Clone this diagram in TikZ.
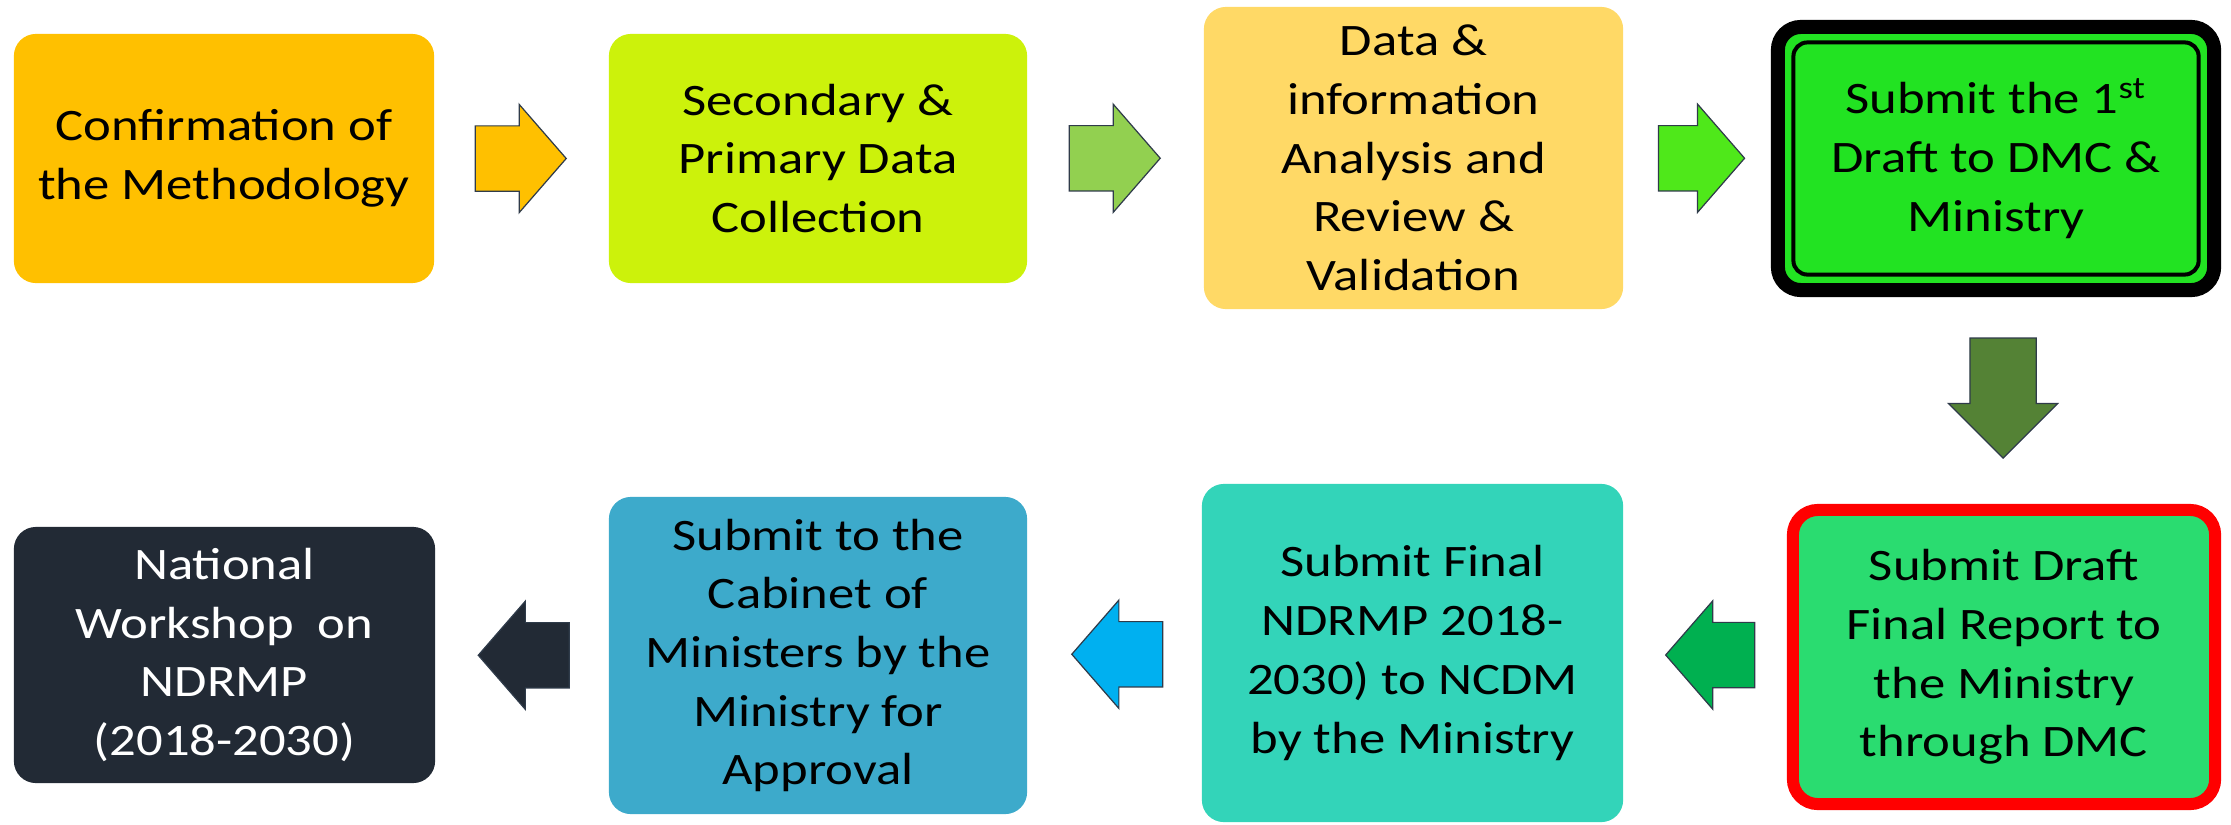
\documentclass[tikz,border=0pt]{standalone}
\usepackage{fontspec}
\setmainfont{Carlito}[FakeStretch=1.17]
\usepackage{xcolor}
\usetikzlibrary{shapes.arrows}
\usetikzlibrary{calc}

\definecolor{fillA}{HTML}{FFC000}
\definecolor{fillB}{HTML}{CCF20B}
\definecolor{fillC}{HTML}{FFD966}
\definecolor{fillD}{HTML}{22E322}
\definecolor{fillE}{HTML}{2ADC70}
\definecolor{fillF}{HTML}{33D4B9}
\definecolor{fillG}{HTML}{3DAACB}
\definecolor{fillH}{HTML}{222A35}
\definecolor{arrAB}{HTML}{FFC000}
\definecolor{arrBC}{HTML}{92D050}
\definecolor{arrCD}{HTML}{4FE81A}
\definecolor{arrDE}{HTML}{548235}
\definecolor{arrEF}{HTML}{00B050}
\definecolor{arrFG}{HTML}{00B0F0}
\definecolor{arrGH}{HTML}{222A35}
\definecolor{arrline}{HTML}{2F3B4A}

\begin{document}
\begin{tikzpicture}[x=0.01cm,y=-0.01cm]
		
		\useasboundingbox (0,0) rectangle (2231,824);
		
		\tikzset{box/.style = {shape=rectangle,rounded corners=0.22cm,inner sep=0pt,align=center,font=\fontsize{12.8}{16.7}\selectfont}}
		\tikzset{blockarrow/.style = {shape=single arrow,draw=arrline,line width=0.35pt,inner xsep=0pt,inner ysep=0.32cm,single arrow head extend=0.215cm,single arrow tip angle=98,minimum height=0.91cm}}
		
		
		\node[box,fill=fillA,minimum width=4.20cm,minimum height=2.49cm] (A) at (224,158.5) {Confirmation of\\the Methodology};
		\node[box,fill=fillB,minimum width=4.18cm,minimum height=2.49cm] (B) at (818,158.5) {Secondary \&\\Primary Data\\Collection};
		\node[box,fill=fillC,minimum width=4.19cm,minimum height=3.02cm] (C) at (1413.5,158) {Data \&\\information\\Analysis and\\Review \&\\Validation};
		\node[box,fill=fillD,draw=black,line width=0.14cm,rounded corners=0.23cm,minimum width=4.36cm,minimum height=2.63cm] (D) at (1996,158.5) {Submit the 1\textsuperscript{st}\\Draft to DMC \&\\Ministry};
		\draw[line width=0.04cm,rounded corners=0.14cm] ([shift={(22.5,22.5)}]D.north west) rectangle ([shift={(-22.5,-22.5)}]D.south east);
		
		\node[box,fill=fillE,draw=red,line width=0.12cm,rounded corners=0.25cm,minimum width=4.22cm,minimum height=2.94cm] (E) at (2004,657) {Submit Draft\\Final Report to\\the Ministry\\through DMC};
		\node[box,fill=fillF,minimum width=4.21cm,minimum height=3.38cm] (F) at (1412.5,653) {Submit Final\\NDRMP 2018-\\2030) to NCDM\\by the Ministry};
		\node[box,fill=fillG,minimum width=4.18cm,minimum height=3.17cm] (G) at (818,655.5) {Submit to the\\Cabinet of\\Ministers by the\\Ministry for\\Approval};
		\node[box,fill=fillH,text=white,minimum width=4.21cm,minimum height=2.56cm] (H) at (224.5,655) {National\\Workshop\ \ on\\NDRMP\\(2018-2030)};
		
		\node[blockarrow,fill=arrAB] (AB) at ($(A.east)!0.5!(B.west)+(-15,0)$) {};
		\node[blockarrow,fill=arrBC] (BC) at ($(B.east)!0.5!(C.west)+(-15,0)$) {};
		\node[blockarrow,fill=arrCD,minimum height=0.86cm] (CD) at ($(C.east)!0.5!(D.west)+(-10,0)$) {};
		\node[blockarrow,fill=arrDE,rotate=-90,inner ysep=0.325cm,single arrow tip angle=90,minimum height=1.2cm] (DE) at ($(D.south)!0.5!(E.north)+(3,-19)$) {};
		\node[blockarrow,fill=arrEF,shape border rotate=180,minimum height=0.89cm] (EF) at ($(E.west)!0.5!(F.east)+(19,0)$) {};
		\node[blockarrow,fill=arrFG,shape border rotate=180] (FG) at ($(F.west)!0.5!(G.east)+(17,0)$) {};
		\node[blockarrow,fill=arrGH,shape border rotate=180] (GH) at ($(G.west)!0.5!(H.east)+(16,0)$) {};
		
		\end{tikzpicture}
\end{document}
